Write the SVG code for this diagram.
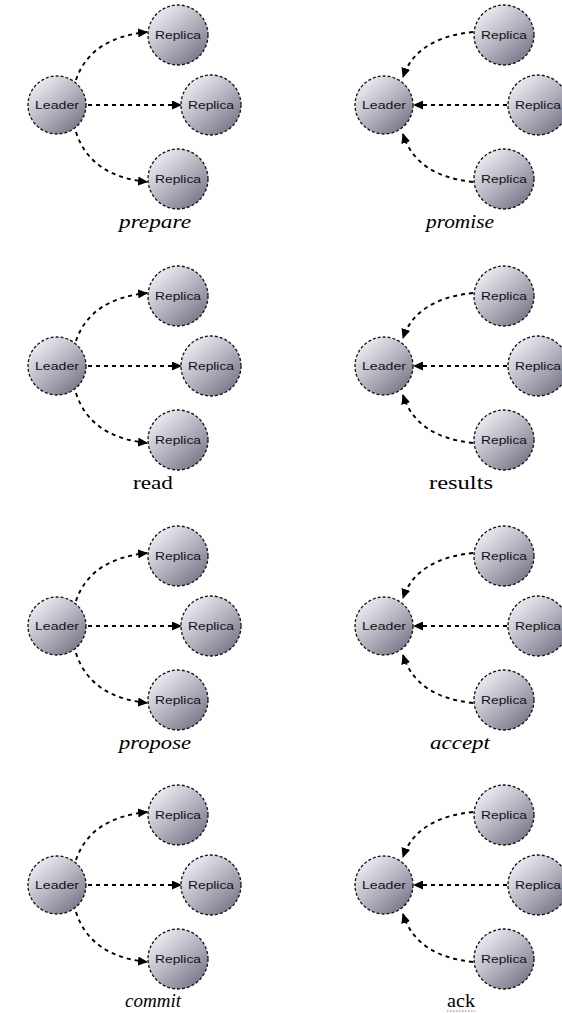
<svg xmlns="http://www.w3.org/2000/svg" width="562" height="1013" viewBox="0 0 562 1013">
<defs>
<linearGradient id="g" x1="0.15" y1="0.1" x2="0.9" y2="0.95">
<stop offset="0" stop-color="#ececf2"/>
<stop offset="0.5" stop-color="#b2b2be"/>
<stop offset="1" stop-color="#707082"/>
</linearGradient>
<marker id="ah" markerUnits="userSpaceOnUse" markerWidth="10" markerHeight="9" refX="9" refY="4.5" orient="auto">
<path d="M0,0 L10,4.5 L0,9 Z" fill="#000"/>
</marker>
<style>
.n circle{fill:url(#g);stroke:#111;stroke-width:1.3;stroke-dasharray:3 2}
.n text{font-family:"Liberation Sans",Arial,sans-serif;font-size:10.5px;fill:#111;text-anchor:middle}
.c path{fill:none;stroke:#000;stroke-width:1.9;stroke-dasharray:4 4;marker-end:url(#ah)}
.cap{font-family:"Liberation Serif","Times New Roman",serif;font-size:19px;fill:#000;text-anchor:middle}
.it{font-style:italic}
</style>
</defs>
<rect width="562" height="1013" fill="#fff"/>
<g id="connectors" class="c">
<path d="M76,80 Q90,38 147,32"/>
<path d="M88,105 L181,105"/>
<path d="M76,132 Q90,176 147,182"/>
<path d="M473,32 Q416,38 403,77"/>
<path d="M507,105 L414,105"/>
<path d="M473,182 Q416,176 403,134"/>
<path d="M76,341 Q90,299 147,293"/>
<path d="M88,366 L181,366"/>
<path d="M76,393 Q90,437 147,443"/>
<path d="M473,293 Q416,299 403,338"/>
<path d="M507,366 L414,366"/>
<path d="M473,443 Q416,437 403,395"/>
<path d="M76,601 Q90,559 147,553"/>
<path d="M88,626 L181,626"/>
<path d="M76,653 Q90,697 147,703"/>
<path d="M473,553 Q416,559 403,598"/>
<path d="M507,626 L414,626"/>
<path d="M473,703 Q416,697 403,655"/>
<path d="M76,860 Q90,818 147,812"/>
<path d="M88,885 L181,885"/>
<path d="M76,912 Q90,956 147,962"/>
<path d="M473,812 Q416,818 403,857"/>
<path d="M507,885 L414,885"/>
<path d="M473,962 Q416,956 403,914"/>
</g>
<g id="n1L" class="n"><circle cx="57" cy="105" r="29"/><text x="57" y="109" textLength="44" lengthAdjust="spacingAndGlyphs">Leader</text></g>
<g id="n1a" class="n"><circle cx="178" cy="35" r="30"/><text x="178" y="39" textLength="46" lengthAdjust="spacingAndGlyphs">Replica</text></g>
<g id="n1b" class="n"><circle cx="211" cy="105" r="30"/><text x="211" y="109" textLength="46" lengthAdjust="spacingAndGlyphs">Replica</text></g>
<g id="n1c" class="n"><circle cx="178" cy="179" r="30"/><text x="178" y="183" textLength="46" lengthAdjust="spacingAndGlyphs">Replica</text></g>
<g id="n2L" class="n"><circle cx="384" cy="105" r="29"/><text x="384" y="109" textLength="44" lengthAdjust="spacingAndGlyphs">Leader</text></g>
<g id="n2a" class="n"><circle cx="504" cy="35" r="30"/><text x="504" y="39" textLength="46" lengthAdjust="spacingAndGlyphs">Replica</text></g>
<g id="n2b" class="n"><circle cx="538" cy="105" r="30"/><text x="538" y="109" textLength="46" lengthAdjust="spacingAndGlyphs">Replica</text></g>
<g id="n2c" class="n"><circle cx="504" cy="179" r="30"/><text x="504" y="183" textLength="46" lengthAdjust="spacingAndGlyphs">Replica</text></g>
<g id="n3L" class="n"><circle cx="57" cy="366" r="29"/><text x="57" y="370" textLength="44" lengthAdjust="spacingAndGlyphs">Leader</text></g>
<g id="n3a" class="n"><circle cx="178" cy="296" r="30"/><text x="178" y="300" textLength="46" lengthAdjust="spacingAndGlyphs">Replica</text></g>
<g id="n3b" class="n"><circle cx="211" cy="366" r="30"/><text x="211" y="370" textLength="46" lengthAdjust="spacingAndGlyphs">Replica</text></g>
<g id="n3c" class="n"><circle cx="178" cy="440" r="30"/><text x="178" y="444" textLength="46" lengthAdjust="spacingAndGlyphs">Replica</text></g>
<g id="n4L" class="n"><circle cx="384" cy="366" r="29"/><text x="384" y="370" textLength="44" lengthAdjust="spacingAndGlyphs">Leader</text></g>
<g id="n4a" class="n"><circle cx="504" cy="296" r="30"/><text x="504" y="300" textLength="46" lengthAdjust="spacingAndGlyphs">Replica</text></g>
<g id="n4b" class="n"><circle cx="538" cy="366" r="30"/><text x="538" y="370" textLength="46" lengthAdjust="spacingAndGlyphs">Replica</text></g>
<g id="n4c" class="n"><circle cx="504" cy="440" r="30"/><text x="504" y="444" textLength="46" lengthAdjust="spacingAndGlyphs">Replica</text></g>
<g id="n5L" class="n"><circle cx="57" cy="626" r="29"/><text x="57" y="630" textLength="44" lengthAdjust="spacingAndGlyphs">Leader</text></g>
<g id="n5a" class="n"><circle cx="178" cy="556" r="30"/><text x="178" y="560" textLength="46" lengthAdjust="spacingAndGlyphs">Replica</text></g>
<g id="n5b" class="n"><circle cx="211" cy="626" r="30"/><text x="211" y="630" textLength="46" lengthAdjust="spacingAndGlyphs">Replica</text></g>
<g id="n5c" class="n"><circle cx="178" cy="700" r="30"/><text x="178" y="704" textLength="46" lengthAdjust="spacingAndGlyphs">Replica</text></g>
<g id="n6L" class="n"><circle cx="384" cy="626" r="29"/><text x="384" y="630" textLength="44" lengthAdjust="spacingAndGlyphs">Leader</text></g>
<g id="n6a" class="n"><circle cx="504" cy="556" r="30"/><text x="504" y="560" textLength="46" lengthAdjust="spacingAndGlyphs">Replica</text></g>
<g id="n6b" class="n"><circle cx="538" cy="626" r="30"/><text x="538" y="630" textLength="46" lengthAdjust="spacingAndGlyphs">Replica</text></g>
<g id="n6c" class="n"><circle cx="504" cy="700" r="30"/><text x="504" y="704" textLength="46" lengthAdjust="spacingAndGlyphs">Replica</text></g>
<g id="n7L" class="n"><circle cx="57" cy="885" r="29"/><text x="57" y="889" textLength="44" lengthAdjust="spacingAndGlyphs">Leader</text></g>
<g id="n7a" class="n"><circle cx="178" cy="815" r="30"/><text x="178" y="819" textLength="46" lengthAdjust="spacingAndGlyphs">Replica</text></g>
<g id="n7b" class="n"><circle cx="211" cy="885" r="30"/><text x="211" y="889" textLength="46" lengthAdjust="spacingAndGlyphs">Replica</text></g>
<g id="n7c" class="n"><circle cx="178" cy="959" r="30"/><text x="178" y="963" textLength="46" lengthAdjust="spacingAndGlyphs">Replica</text></g>
<g id="n8L" class="n"><circle cx="384" cy="885" r="29"/><text x="384" y="889" textLength="44" lengthAdjust="spacingAndGlyphs">Leader</text></g>
<g id="n8a" class="n"><circle cx="504" cy="815" r="30"/><text x="504" y="819" textLength="46" lengthAdjust="spacingAndGlyphs">Replica</text></g>
<g id="n8b" class="n"><circle cx="538" cy="885" r="30"/><text x="538" y="889" textLength="46" lengthAdjust="spacingAndGlyphs">Replica</text></g>
<g id="n8c" class="n"><circle cx="504" cy="959" r="30"/><text x="504" y="963" textLength="46" lengthAdjust="spacingAndGlyphs">Replica</text></g>
<g id="captions">
<text class="cap it" x="155" y="228" textLength="72" lengthAdjust="spacingAndGlyphs">prepare</text>
<text class="cap it" x="460" y="228" textLength="68" lengthAdjust="spacingAndGlyphs">promise</text>
<text class="cap" x="153" y="489" textLength="40" lengthAdjust="spacingAndGlyphs">read</text>
<text class="cap" x="461" y="489" textLength="64" lengthAdjust="spacingAndGlyphs">results</text>
<text class="cap it" x="155" y="749" textLength="72" lengthAdjust="spacingAndGlyphs">propose</text>
<text class="cap it" x="460" y="749" textLength="60" lengthAdjust="spacingAndGlyphs">accept</text>
<text class="cap it" x="153" y="1007" textLength="56" lengthAdjust="spacingAndGlyphs">commit</text>
<text class="cap" x="461" y="1007" textLength="28" lengthAdjust="spacingAndGlyphs">ack</text>
<path d="M447,1011 L475,1011" stroke="#e05050" stroke-width="1" stroke-dasharray="1.5 1.5" fill="none"/>
</g>
</svg>
